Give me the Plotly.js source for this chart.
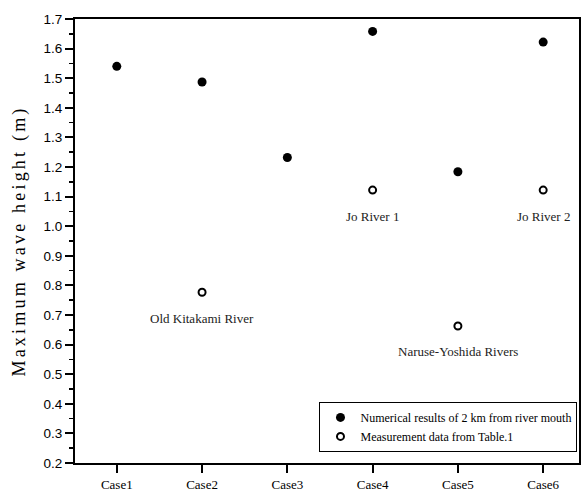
<!DOCTYPE html>
<html>
<head>
<meta charset="utf-8">
<script src="https://cdn.plot.ly/plotly-3.0.1.min.js"></script>
<style>
html,body{margin:0;padding:0;background:#fff;}
#chart{width:586px;height:495px;}
.ytitle{letter-spacing:3.2px;}
</style>
</head>
<body>
<div id="chart"></div>
<script>
const cases = ["Case1","Case2","Case3","Case4","Case5","Case6"];
const numerical = [1.54, 1.487, 1.232, 1.658, 1.184, 1.622];
const measCases = ["Case2","Case4","Case5","Case6"];
const measured = [0.777, 1.122, 0.663, 1.122];
const measLabels = ["Old Kitakami River","Jo River 1","Naruse-Yoshida Rivers","Jo River 2"];
const yTicks = [0.2,0.3,0.4,0.5,0.6,0.7,0.8,0.9,1.0,1.1,1.2,1.3,1.4,1.5,1.6,1.7];

const serif = "'Liberation Serif', 'Times New Roman', serif";
const sans = "'Liberation Sans', Arial, sans-serif";

const traces = [
  {
    x: cases, y: numerical, type: "scatter", mode: "markers",
    name: "Numerical results of 2 km from river mouth",
    marker: {symbol: "circle", size: 9, color: "#000"}
  },
  {
    x: measCases, y: measured, type: "scatter", mode: "markers",
    name: "Measurement data from Table.1",
    marker: {symbol: "circle-open", size: 7, color: "#000", line: {width: 2, color: "#000"}}
  }
];

const annotations = measCases.map((c, i) => ({
  x: c, y: measured[i], xref: "x", yref: "y",
  text: measLabels[i], showarrow: false,
  yshift: -26, font: {family: serif, size: 13, color: "#222"}
}));

const layout = {
  width: 586, height: 495,
  margin: {l: 75, r: 7, t: 19, b: 32},
  paper_bgcolor: "#fff", plot_bgcolor: "#fff",
  showlegend: true,
  legend: {
    x: 0.997, xanchor: "right", y: 0.025, yanchor: "bottom",
    bordercolor: "#000", borderwidth: 1, bgcolor: "#fff",
    font: {family: serif, size: 12, color: "#000"},
    tracegroupgap: 0
  },
  xaxis: {
    type: "category", categoryorder: "array", categoryarray: cases,
    range: [-0.49, 5.42],
    showline: true, linecolor: "#000", linewidth: 2, mirror: true,
    ticks: "outside", ticklen: 8, tickwidth: 2, tickcolor: "#000",
    showgrid: false, zeroline: false,
    tickfont: {family: serif, size: 13, color: "#000"}
  },
  yaxis: {
    range: [0.2, 1.7],
    tickvals: yTicks, ticktext: yTicks.map(v => v.toFixed(1)),
    showline: true, linecolor: "#000", linewidth: 2, mirror: true,
    ticks: "outside", ticklen: 8, tickwidth: 2, tickcolor: "#000",
    minor: {dtick: 0.05, tick0: 0.2, ticks: "outside", ticklen: 4, tickwidth: 1.5, tickcolor: "#000", showgrid: false},
    showgrid: false, zeroline: false,
    tickfont: {family: sans, size: 13.5, color: "#000"},
    title: {text: "Maximum wave height (m)", font: {family: serif, size: 18, color: "#000"}, standoff: 13}
  },
  annotations: annotations
};

Plotly.newPlot("chart", traces, layout, {displayModeBar: false, staticPlot: true});
</script>
</body>
</html>
